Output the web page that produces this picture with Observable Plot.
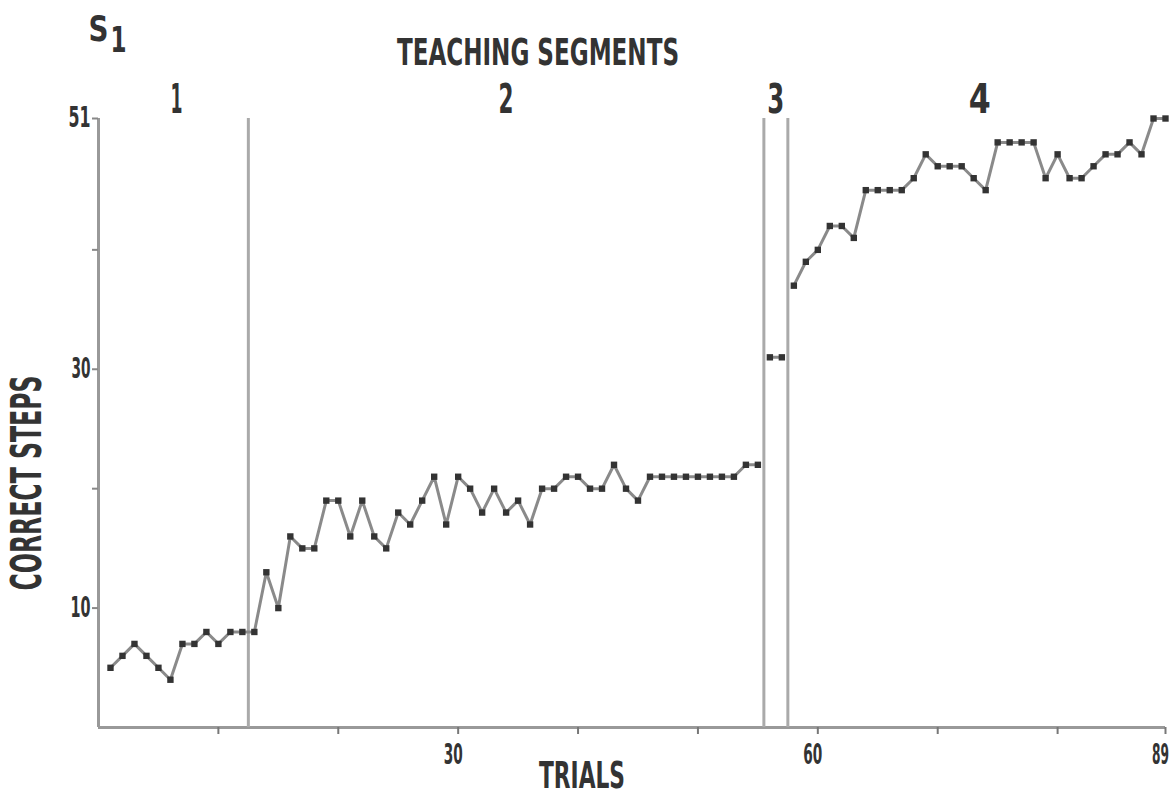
<!DOCTYPE html>
<html>
<head>
<meta charset="utf-8">
<script src="https://cdn.jsdelivr.net/npm/d3@7"></script>
<script src="https://cdn.jsdelivr.net/npm/@observablehq/plot@0.6"></script>
<style>
  html, body { margin: 0; padding: 0; background: #fff; }
  #chart svg { display: block; }
</style>
</head>
<body>
<div id="chart"></div>
<script>
// ---- data ----
const trials = d3.range(1, 90);
const correctSteps = [
  // segment 1 (trials 1-12)
  5, 6, 7, 6, 5, 4, 7, 7, 8, 7, 8, 8,
  // segment 2 (trials 13-55)
  8, 13, 10, 16, 15, 15, 19, 19, 16, 19, 16, 15, 18, 17, 19, 21, 17, 21, 20, 18,
  20, 18, 19, 17, 20, 20, 21, 21, 20, 20, 22, 20, 19, 21, 21, 21, 21, 21, 21, 21,
  21, 22, 22,
  // segment 3 (trials 56-57)
  31, 31,
  // segment 4 (trials 58-89)
  37, 39, 40, 42, 42, 41, 45, 45, 45, 45, 46, 48, 47, 47, 47, 46, 45, 49, 49, 49,
  49, 46, 48, 46, 46, 47, 48, 48, 49, 48, 51, 51
];
const segmentNames = ["1", "2", "3", "4"];
const segmentLastTrial = [12, 55, 57, 89];
const xTickValues = [10, 20, 30, 40, 50, 60, 70, 80, 89];
const xTickLabels = [30, 60, 89];
const yTickValues = [10, 20, 30, 40, 51];
const yTickLabels = [10, 30, 51];

const title = "TEACHING SEGMENTS";
const xTitle = "TRIALS";
const yTitle = "CORRECT STEPS";
const subject = "S";
const subjectIndex = "1";

// ---- derived tables ----
const segOf = t => segmentLastTrial.findIndex(e => t <= e);
const data = trials.map((t, i) => ({trial: t, steps: correctSteps[i], seg: segOf(t)}));
const boundaries = segmentLastTrial.slice(0, -1).map(e => e + 0.5);
const segLabels = segmentNames.map((name, i) => {
  const ts = data.filter(d => d.seg === i).map(d => d.trial);
  return {name, x: d3.mean(ts)};
});
// segments 1 and 2 are drawn as one continuous trace in the original
const trace = d => (d.seg <= 1 ? 0 : d.seg);

const FONT = "'Liberation Sans Narrow', 'DejaVu Sans Condensed', 'Roboto', sans-serif";
const INK = "#333";
const AXIS = "#999";

const chart = Plot.plot({
  width: 1176,
  height: 797,
  marginLeft: 98,
  marginRight: 11,
  marginTop: 118,
  marginBottom: 70,
  style: {fontFamily: FONT, fontWeight: "bold", color: INK, background: "#fff"},
  x: {domain: [0, 89]},
  y: {domain: [0, 51]},
  marks: [
    // axis lines
    Plot.ruleY([0], {stroke: AXIS, strokeWidth: 3}),
    Plot.ruleX([0], {stroke: AXIS, strokeWidth: 3}),
    // tick marks
    Plot.axisX({ticks: xTickValues, tickSize: 7, stroke: "#777", strokeWidth: 2, tickFormat: () => "", label: null}),
    Plot.axisY({ticks: yTickValues, tickSize: 6, stroke: "#888", strokeWidth: 2, tickFormat: () => "", label: null}),
    // tick labels
    Plot.text(xTickLabels, {x: d => d, text: d => String(d), frameAnchor: "bottom", lineAnchor: "middle",
      dx: -5, dy: 28, fontSize: 28, fill: INK, className: "ticklab"}),
    Plot.text(yTickLabels, {y: d => d, text: d => String(d), frameAnchor: "left", textAnchor: "end",
      lineAnchor: "middle", dx: -8, fontSize: 28, fill: INK, className: "ticklab"}),
    // segment boundaries
    Plot.ruleX(boundaries, {stroke: "#aaa", strokeWidth: 3}),
    // data
    Plot.line(data, {x: "trial", y: "steps", z: trace, stroke: "#8a8a8a", strokeWidth: 3}),
    Plot.dot(data, {x: "trial", y: "steps", symbol: "square", r: 3.6, fill: "#333", stroke: "none"}),
    // segment numbers
    Plot.text(segLabels, {x: "x", text: "name", frameAnchor: "top", lineAnchor: "middle", dy: -18,
      fontSize: 40, fill: INK, className: "seglab"}),
    // titles
    Plot.text([title], {frameAnchor: "top", lineAnchor: "middle", dx: -94, dy: -66, fontSize: 38, fill: INK}),
    Plot.text([subject], {frameAnchor: "top-left", textAnchor: "middle", lineAnchor: "middle", dx: 0, dy: -89, fontSize: 36, fill: INK}),
    Plot.text([subjectIndex], {frameAnchor: "top-left", textAnchor: "middle", lineAnchor: "middle", dx: 20, dy: -78,
      fontSize: 36, fill: INK, className: "subidx"}),
    Plot.text([xTitle], {frameAnchor: "bottom", lineAnchor: "middle", dx: -50, dy: 48, fontSize: 38, fill: INK}),
    Plot.text([yTitle], {frameAnchor: "left", textAnchor: "middle", lineAnchor: "middle", dx: -71, dy: 60, rotate: -90, fontSize: 42, fill: INK})
  ]
});

// condense the lettering to the widths seen in the original
const widths = {[title]: 282, [xTitle]: 86, [yTitle]: 215, [subject]: 20};
const tickWidths = {"30": 19, "60": 19, "89": 17, "51": 22, "10": 20};
const segWidths = {"1": 12, "2": 15, "3": 17, "4": 22};
chart.querySelectorAll("text").forEach(t => {
  const s = t.textContent;
  let w;
  if (t.closest(".seglab")) w = segWidths[s];
  else if (t.closest(".subidx")) w = 16;
  else if (t.closest(".ticklab")) w = tickWidths[s];
  else w = widths[s];
  if (w) {
    t.setAttribute("textLength", w);
    t.setAttribute("lengthAdjust", "spacingAndGlyphs");
  }
});

document.getElementById("chart").appendChild(chart);
</script>
</body>
</html>
